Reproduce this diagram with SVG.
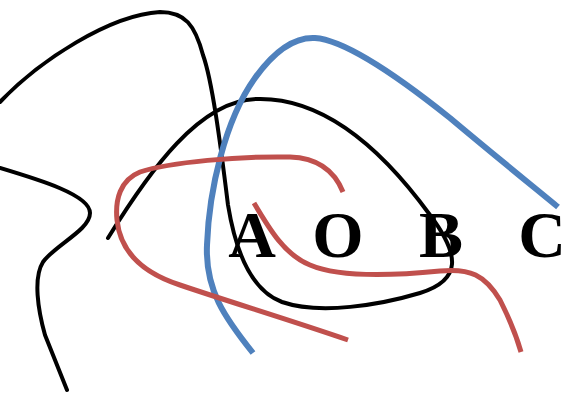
<svg xmlns="http://www.w3.org/2000/svg" width="562" height="399" viewBox="0 0 562 399">
<style>
.k{fill:none;stroke:#000;stroke-width:4;stroke-linecap:round;stroke-linejoin:round}
.b{fill:none;stroke:#4f81bd;stroke-width:6;stroke-linecap:butt}
.r{fill:none;stroke:#c0504d;stroke-width:5;stroke-linecap:butt}
.t{font-family:"Liberation Serif","Times New Roman",serif;font-weight:bold;font-size:66px;fill:#000;text-anchor:middle}
</style>
<rect width="562" height="399" fill="#fff"/>
<g id="curves">
<path class="k" d="M108,238 C150,170 200,100 257,99 C330,97 390,160 430,215 C460,255 462,280 420,293 C380,305 320,315 282,302 C255,292 237,260 228,205 C220,140 212,80 203,55 C195,25 185,12 160,12 C110,15 40,60 0,102"/>
<path class="k" d="M0,168 C40,180 90,195 90,213 C90,230 55,245 43,262 C33,278 38,310 45,335 L67,390"/>
<path class="b" d="M253,353 C225,318 205,290 207,245 C209,190 225,120 255,78 C275,50 295,37 315,38 C345,40 400,78 450,118 C500,160 540,192 558,207"/>
<path class="r" d="M343,192 C335,172 320,158 290,157 C240,156 170,162 140,172 C120,180 115,200 117,220 C120,250 140,272 180,285 C230,302 290,320 348,340"/>
<path class="r" d="M254,203 C270,230 285,255 310,265 C340,278 400,275 440,271 C470,268 485,275 500,300 C510,320 517,338 521,352"/>
</g>
<g id="labels">
<text class="t" x="252" y="257">A</text>
<text class="t" x="338" y="257">O</text>
<text class="t" x="441" y="257">B</text>
<text class="t" x="542" y="257">C</text>
</g>
</svg>
